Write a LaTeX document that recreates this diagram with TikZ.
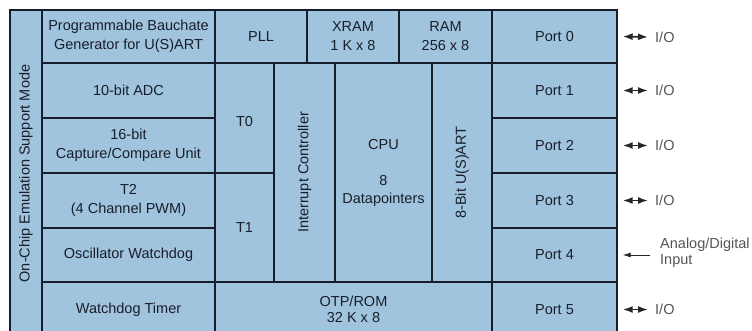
\documentclass[tikz,border=0pt]{standalone}
\usepackage{fontspec}
\setmainfont{Liberation Sans}
\usetikzlibrary{arrows.meta}
\definecolor{chipblue}{RGB}{160,196,222}
\definecolor{edgec}{RGB}{22,30,44}
\definecolor{textc}{RGB}{25,30,42}
\definecolor{labc}{RGB}{85,85,90}
\begin{document}
\begin{tikzpicture}[x=1pt,y=-1pt,
  blk/.style={draw=edgec,fill=chipblue,line width=1.4pt,inner sep=0pt,align=center,
    text=textc,font=\fontsize{14.5}{19}\selectfont},
  vblk/.style={blk,rotate=90},
  lab/.style={anchor=west,inner sep=0pt,text=labc,align=left,font=\fontsize{14.5}{16}\selectfont},
  ioarrow/.style={{Latex[length=10pt,width=7pt]}-{Latex[length=10pt,width=7pt]},line width=1.6pt,draw=black!85},
  inarrow/.style={{Latex[length=8pt,width=5pt]}-,line width=0.9pt,draw=black!85}]
\useasboundingbox (0,0) rectangle (752,331);
\clip (0,0) rectangle (752,331);
% left column
\node[vblk,minimum width=327,minimum height=32] (emu) at (26,173.5) {On-Chip Emulation Support Mode};
% top row
\node[blk,minimum width=173,minimum height=53] (pbg) at (128.5,36.5) {Programmable Bauchate\\Generator for U(S)ART};
\node[blk,minimum width=92,minimum height=53] (pll) at (261,36.5) {PLL};
\node[blk,minimum width=92,minimum height=53] (xram) at (353,36.5) {XRAM\\1 K x 8};
\node[blk,minimum width=93,minimum height=53] (ram) at (445.5,36.5) {RAM\\256 x 8};
% left blocks
\node[blk,minimum width=173,minimum height=55] (adc) at (128.5,90.5) {10-bit ADC};
\node[blk,minimum width=173,minimum height=55] (ccu) at (128.5,145.5) {16-bit\\Capture/Compare Unit};
\node[blk,minimum width=173,minimum height=55] (t2) at (128.5,200.5) {T2\\(4 Channel PWM)};
\node[blk,minimum width=173,minimum height=54] (osc) at (128.5,255) {Oscillator Watchdog};
\node[blk,minimum width=173,minimum height=55] (wdt) at (128.5,309.5) {Watchdog Timer};
% timers
\node[blk,minimum width=59,minimum height=110] (t0) at (244.5,118) {\rule{0pt}{18pt}T0};
\node[blk,minimum width=59,minimum height=109] (t1) at (244.5,227.5) {T1};
% core
\node[vblk,minimum width=219,minimum height=61] (irq) at (304.5,172.5) {Interrupt Controller};
\node[blk,minimum width=97,minimum height=219] (cpu) at (383.5,172.5) {CPU\\[17pt]8\\[-1pt]Datapointers};
\node[vblk,minimum width=219,minimum height=60] (uart) at (462,172.5) {8-Bit U(S)ART};
\node[blk,minimum width=277,minimum height=55] (otp) at (353.5,309.5) {OTP/ROM\\[-3pt]32 K x 8};
% ports
\node[blk,minimum width=125,minimum height=53] (p0) at (554.5,36.5) {Port 0};
\node[blk,minimum width=125,minimum height=55] (p1) at (554.5,90.5) {Port 1};
\node[blk,minimum width=125,minimum height=55] (p2) at (554.5,145.5) {Port 2};
\node[blk,minimum width=125,minimum height=55] (p3) at (554.5,200.5) {Port 3};
\node[blk,minimum width=125,minimum height=54] (p4) at (554.5,255) {Port 4};
\node[blk,minimum width=125,minimum height=55] (p5) at (554.5,309.5) {Port 5};
% external labels
\node[lab] (io0) at (655,37) {I/O};
\node[lab] (io1) at (655,90.5) {I/O};
\node[lab] (io2) at (655,145.5) {I/O};
\node[lab] (io3) at (655,200.5) {I/O};
\node[lab] (io5) at (655,309.5) {I/O};
\node[lab] (an) at (660,253) {Analog/Digital\\Input};
\coordinate (anend) at (650,255);
\draw[ioarrow] ([xshift=5pt]p0.east) -- ([xshift=-7pt]io0.west);
\draw[ioarrow] ([xshift=5pt]p1.east) -- ([xshift=-7pt]io1.west);
\draw[ioarrow] ([xshift=5pt]p2.east) -- ([xshift=-7pt]io2.west);
\draw[ioarrow] ([xshift=5pt]p3.east) -- ([xshift=-7pt]io3.west);
\draw[ioarrow] ([xshift=5pt]p5.east) -- ([xshift=-7pt]io5.west);
\draw[inarrow] ([xshift=5pt]p4.east) -- (anend);
\end{tikzpicture}
\end{document}
